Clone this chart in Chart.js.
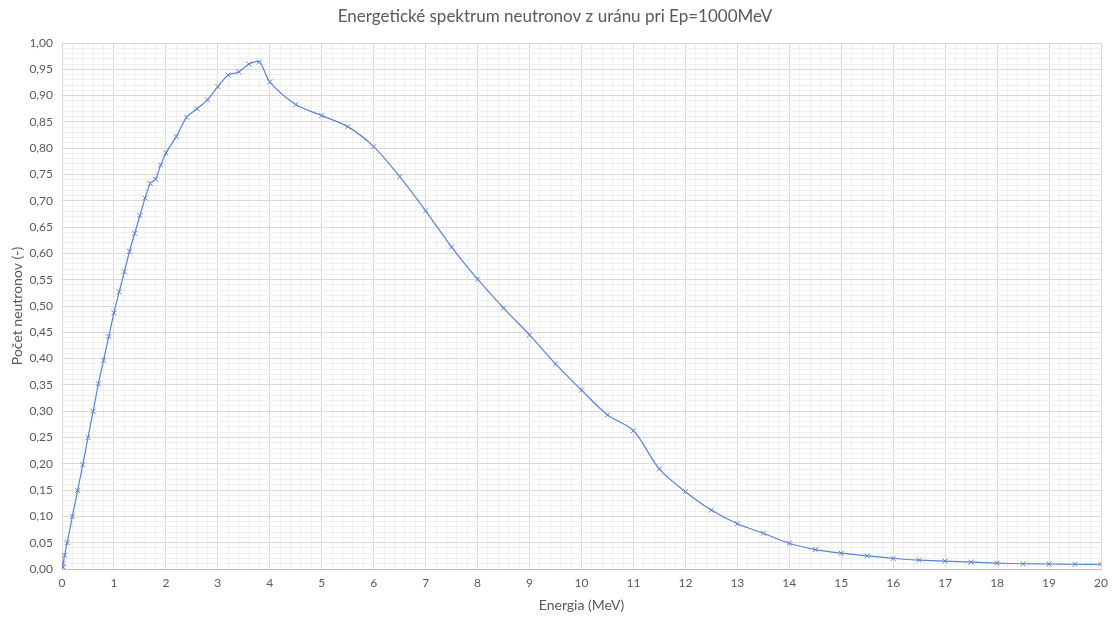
<!DOCTYPE html>
<html>
<head>
<meta charset="utf-8">
<script src="https://cdn.jsdelivr.net/npm/chart.js@4/dist/chart.umd.min.js"></script>
<style>
    html, body { margin: 0; padding: 0; background: #ffffff; }
    .chart-box { width: 1116px; height: 619px; position: relative; }
</style>
</head>
<body>
<div class="chart-box"><canvas id="spectrumChart"></canvas></div>
<script>
// energia (MeV) a pocet neutronov odcitane z grafu
const energy = [0, 0.005, 0.01, 0.02, 0.05, 0.1, 0.2, 0.3, 0.4, 0.5, 0.6, 0.7, 0.8, 0.9,
    1.0, 1.1, 1.2, 1.3, 1.4, 1.5, 1.6, 1.7, 1.8, 1.9, 2.0, 2.2, 2.4, 2.6, 2.8, 3.0,
    3.2, 3.4, 3.6, 3.8, 4.0, 4.5, 5.0, 5.5, 6.0, 6.5, 7.0, 7.5, 8.0, 8.5, 9.0, 9.5,
    10.0, 10.5, 11.0, 11.5, 12.0, 12.5, 13.0, 13.5, 14.0, 14.5, 15.0, 15.5, 16.0, 16.5,
    17.0, 17.5, 18.0, 18.5, 19.0, 19.5, 20.0];
const counts = [0, 0.002, 0.005, 0.011, 0.026, 0.05, 0.10, 0.149, 0.198, 0.25, 0.30, 0.352, 0.397, 0.442,
    0.487, 0.527, 0.565, 0.604, 0.638, 0.672, 0.705, 0.733, 0.741, 0.768, 0.791, 0.822, 0.859, 0.875, 0.892, 0.917,
    0.939, 0.945, 0.960, 0.964, 0.926, 0.883, 0.862, 0.841, 0.803, 0.746, 0.681, 0.612, 0.551, 0.496, 0.445, 0.390,
    0.340, 0.293, 0.263, 0.190, 0.147, 0.112, 0.086, 0.068, 0.049, 0.037, 0.030, 0.025, 0.020, 0.017,
    0.015, 0.013, 0.011, 0.010, 0.0095, 0.009, 0.009];

const xMin = 0, xMax = 20, xMinorStep = 0.2;
const yMin = 0, yMax = 1, yMinorStep = 0.01, yMajorStep = 0.05;

const textColor = '#595959';
const majorGrid = '#d9d9d9';
const minorGrid = '#efefef';
const lineColor = '#5a84d0';
const fontFamily = 'Lato, "Open Sans", sans-serif';

function isMultiple(v, step) {
    const r = v / step;
    return Math.abs(r - Math.round(r)) < 1e-6;
}

const points = energy.map((e, i) => ({ x: e, y: counts[i] }));

const ctx = document.getElementById('spectrumChart').getContext('2d');
new Chart(ctx, {
    type: 'line',
    data: {
        datasets: [{
            label: 'Počet neutronov',
            data: points,
            borderColor: lineColor,
            borderWidth: 1.2,
            tension: 0.3,
            pointStyle: 'crossRot',
            pointRadius: 3.5,
            pointBorderWidth: 1,
            pointBorderColor: lineColor,
            fill: false
        }]
    },
    options: {
        responsive: true,
        maintainAspectRatio: false,
        animation: false,
        layout: { padding: { left: 9, right: 15, top: 0, bottom: 0 } },
        plugins: {
            legend: { display: false },
            tooltip: { enabled: false },
            title: {
                display: true,
                text: 'Energetické spektrum neutronov z uránu pri Ep=1000MeV',
                color: textColor,
                font: { family: fontFamily, size: 17, weight: 'normal' },
                padding: { top: 6, bottom: 16.6 }
            }
        },
        scales: {
            x: {
                type: 'linear',
                min: xMin,
                max: xMax,
                afterFit: (scale) => { scale.height = 50; },
                ticks: {
                    stepSize: xMinorStep,
                    autoSkip: false,
                    maxRotation: 0,
                    maxTicksLimit: 1000,
                    color: textColor,
                    font: { family: fontFamily, size: 12 },
                    padding: 7,
                    callback: (v) => isMultiple(v, 1) ? Math.round(v).toString() : ''
                },
                grid: {
                    drawTicks: false,
                    color: (c) => (c.tick && isMultiple(c.tick.value, 1)) ? majorGrid : minorGrid
                },
                border: { color: '#bfbfbf' },
                title: {
                    display: true,
                    text: 'Energia (MeV)',
                    color: textColor,
                    font: { family: fontFamily, size: 14 },
                    padding: { top: 0, bottom: 5 }
                }
            },
            y: {
                min: yMin,
                max: yMax,
                afterFit: (scale) => { scale.width = 53; },
                ticks: {
                    stepSize: yMinorStep,
                    autoSkip: false,
                    maxTicksLimit: 1000,
                    color: textColor,
                    font: { family: fontFamily, size: 12 },
                    padding: 9,
                    callback: (v) => isMultiple(v, yMajorStep) ? v.toFixed(2).replace('.', ',') : ''
                },
                grid: {
                    drawTicks: false,
                    color: (c) => (c.tick && isMultiple(c.tick.value, yMajorStep)) ? majorGrid : minorGrid
                },
                border: { color: majorGrid },
                title: {
                    display: true,
                    text: 'Počet neutronov (-)',
                    color: textColor,
                    font: { family: fontFamily, size: 14 },
                    padding: { top: 0, bottom: 4 }
                }
            }
        }
    }
});
</script>
</body>
</html>
